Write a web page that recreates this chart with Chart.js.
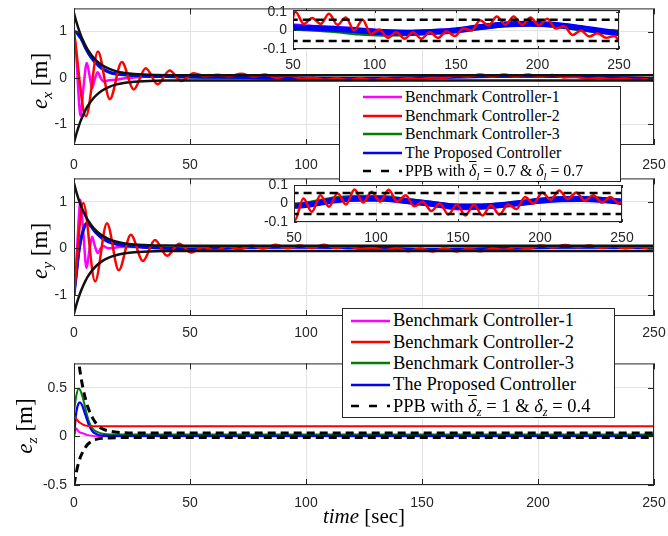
<!DOCTYPE html>
<html>
<head>
<meta charset="utf-8">
<script src="https://cdn.jsdelivr.net/npm/chart.js@4.4.1/dist/chart.umd.min.js"></script>
<style>
body { margin: 0; background: #fff; }
#fig { position: relative; width: 668px; height: 536px; overflow: hidden; font-family: 'Liberation Serif', 'Times New Roman', serif; }
canvas { position: absolute; }
.leg { position: absolute; background: #fff; border: 1px solid #262626; box-sizing: border-box; color: #000; white-space: nowrap; }
.row { display: flex; align-items: center; }
.row svg { flex: none; }
.lab { position: absolute; white-space: nowrap; color: #000; }
.ylab { font-size: 23px; transform: translate(-50%, -50%) rotate(-90deg); }
.xlab { font-size: 21px; transform: translate(-50%, -50%); }
sub { font-size: 0.68em; vertical-align: -0.35em; line-height: 0; }
.ov { text-decoration: overline; }
.un { text-decoration: underline; text-underline-offset: 5px; }
</style>
</head>
<body>
<div id="fig">
  <canvas id="c1" width="668" height="180" style="left:0;top:0"></canvas>
  <canvas id="i1" width="400" height="80" style="left:240px;top:0"></canvas>
  <canvas id="c2" width="668" height="180" style="left:0;top:170px"></canvas>
  <canvas id="i2" width="400" height="80" style="left:240px;top:175px"></canvas>
  <canvas id="c3" width="668" height="181" style="left:0;top:355px"></canvas>
  <div class="leg" id="leg1" style="left:339px;top:86px;width:282px;height:96px;font-size:15.8px;padding-top:1px"></div>
  <div class="leg" id="leg2" style="left:342px;top:308px;width:273px;height:110px;font-size:18.5px;padding-top:1px"></div>
  <div class="lab ylab" style="left:40px;top:81px"><i>e</i><sub><i>x</i></sub> [m]</div>
  <div class="lab ylab" style="left:40px;top:251px"><i>e</i><sub><i>y</i></sub> [m]</div>
  <div class="lab ylab" style="left:25px;top:426px"><i>e</i><sub><i>z</i></sub> [m]</div>
  <div class="lab xlab" style="left:364px;top:516px"><i>time</i> [sec]</div>
</div>
<script>
// tick labels
const xTicks = [0, 50, 100, 150, 200, 250];
const xTicksInset = [50, 100, 150, 200, 250];
const yTicksXY = [-1, 0, 1];
const yTicksZ = [-0.5, 0, 0.5];
const yTicksInset = [-0.1, 0, 0.1];

// legend entries
const seriesNames = ['Benchmark Controller-1', 'Benchmark Controller-2', 'Benchmark Controller-3', 'The Proposed Controller'];
const boundNameXY = 'PPB with <i class="ov">&delta;</i><sub><i>l</i></sub> = 0.7 &amp; <span class="un"><i>&delta;</i><sub><i>l</i></sub></span> = 0.7';
const boundNameZ = 'PPB with <i class="ov">&delta;</i><sub><i>z</i></sub> = 1 &amp; <span class="un"><i>&delta;</i><sub><i>z</i></sub></span> = 0.4';

// common time grid for the smooth controllers
const tS = [0, 1, 2, 3, 4, 5, 6, 7, 8, 9, 10, 12, 14, 16, 18, 20, 25, 30, 40, 50, 60, 75, 90, 105, 120, 135, 150, 165, 180, 195, 210, 225, 240, 250];

// prescribed performance bounds (x and y)
const tB = [0, 1, 2, 3, 4, 5, 6, 8, 10, 12, 15, 18, 22, 26, 30, 35, 40, 50, 250];
const bUp = [1.4, 1.213, 1.052, 0.913, 0.794, 0.691, 0.602, 0.461, 0.356, 0.278, 0.198, 0.146, 0.106, 0.083, 0.071, 0.063, 0.059, 0.057, 0.057];
const bLo = [-1.4, -1.213, -1.052, -0.913, -0.794, -0.691, -0.602, -0.461, -0.356, -0.278, -0.198, -0.146, -0.106, -0.083, -0.071, -0.063, -0.059, -0.057, -0.057];

// e_x
const exBlue = [1.0, 0.99, 0.93, 0.86, 0.76, 0.65, 0.56, 0.48, 0.41, 0.35, 0.30, 0.21, 0.15, 0.11, 0.09, 0.075, 0.055, 0.042, 0.028, 0.018, 0.014, 0.009, 0.0, -0.009, -0.012, -0.008, 0.0, 0.018, 0.032, 0.036, 0.03, 0.015, -0.004, -0.015];
const exGreen = [1.0, 0.98, 0.91, 0.84, 0.74, 0.63, 0.54, 0.46, 0.39, 0.33, 0.28, 0.19, 0.14, 0.1, 0.08, 0.065, 0.048, 0.036, 0.024, 0.012, 0.008, 0.0, -0.014, -0.02, -0.018, -0.01, 0.0, 0.016, 0.03, 0.034, 0.028, 0.01, -0.005, -0.008];
const tMx = [0, 1, 2, 2.8, 4, 5.5, 6.7, 7.8, 9, 10.2, 11.5, 12.7, 15, 18, 22, 26, 30, 40, 50, 60, 75, 90, 105, 120, 135, 150, 165, 180, 195, 210, 225, 240, 250];
const exMag = [1.0, 0.5, -0.4, -0.82, -0.25, 0.32, 0.05, -0.22, -0.02, 0.12, 0.0, -0.08, -0.05, -0.04, -0.01, 0.01, 0.025, 0.028, 0.025, 0.018, 0.012, 0.002, -0.006, -0.01, -0.006, 0.002, 0.02, 0.033, 0.037, 0.03, 0.016, -0.004, -0.012];
const tRx = [0, 5.15, 10.3, 15.45, 20.6, 25.75, 30.9, 36.05, 41.2, 46.35, 51.5, 56.65, 61.8, 66.95, 72.1, 77.25, 82.4, 87.55, 92.7, 97.85, 103, 108.15, 113.3, 118.45, 123.6, 128.75, 133.9, 139.05, 144.2, 149.35, 154.5, 159.65, 164.8, 169.95, 175.1, 180.25, 185.4, 190.55, 195.7, 200.85, 206, 211.15, 216.3, 221.45, 226.6, 231.75, 236.9, 242.05, 247.2, 250];
const exRed = [1.0, -0.83, 0.57, -0.46, 0.34, -0.25, 0.21, -0.14, 0.16, -0.07, 0.10, 0.035, 0.067, 0.035, 0.09, 0.03, 0.07, 0.0, 0.058, -0.02, 0.005, -0.04, -0.01, -0.045, -0.01, -0.045, -0.01, -0.04, -0.005, -0.03, 0.01, 0.0, 0.055, 0.027, 0.075, 0.03, 0.075, 0.03, 0.07, 0.027, 0.063, 0.01, 0.022, -0.024, 0.0, -0.033, -0.015, -0.04, -0.03, -0.057];

// e_y
const eyBlue = [-1.0, -0.55, -0.1, 0.2, 0.4, 0.52, 0.54, 0.49, 0.43, 0.36, 0.31, 0.22, 0.16, 0.12, 0.09, 0.07, 0.045, 0.025, 0.005, -0.012, -0.005, 0.018, 0.026, 0.025, 0.012, -0.003, -0.017, -0.016, -0.005, 0.01, 0.022, 0.024, 0.017, 0.009];
const eyGreen = [-1.0, -0.57, -0.12, 0.18, 0.38, 0.5, 0.53, 0.49, 0.43, 0.37, 0.32, 0.23, 0.17, 0.13, 0.1, 0.08, 0.05, 0.03, 0.01, -0.008, 0.002, 0.026, 0.034, 0.032, 0.016, 0.0, -0.014, -0.014, -0.004, 0.012, 0.026, 0.028, 0.02, 0.012];
const tMy = [0, 1, 2, 2.7, 4, 5.4, 6.6, 7.8, 9, 10.2, 11.4, 12.5, 15, 18, 22, 26, 30, 40, 50, 60, 75, 90, 105, 120, 135, 150, 165, 180, 195, 210, 225, 240, 250];
const eyMag = [-1.0, -0.3, 0.6, 1.04, 0.35, -0.42, -0.05, 0.25, 0.05, -0.1, -0.01, 0.05, 0.0, 0.02, 0.04, 0.04, 0.025, 0.0, -0.012, -0.004, 0.018, 0.026, 0.024, 0.01, -0.006, -0.024, -0.02, -0.006, 0.01, 0.024, 0.027, 0.02, 0.01];
const tRy = [0, 4.0, 9.1, 14.2, 19.3, 24.5, 29.7, 34.9, 40.1, 45.3, 50.5, 55.7, 60.9, 66.1, 71.3, 76.5, 81.7, 86.9, 92.1, 97.3, 102.5, 107.7, 112.9, 118.1, 123.3, 128.5, 133.7, 138.9, 144.1, 149.3, 154.5, 159.7, 164.9, 170.1, 175.3, 180.5, 185.7, 190.9, 196.1, 201.3, 206.5, 211.7, 216.9, 222.1, 227.3, 232.5, 237.7, 242.9, 248.1, 250];
const eyRed = [-1.0, 0.97, -0.71, 0.54, -0.47, 0.29, -0.27, 0.18, -0.16, 0.10, -0.09, 0.027, -0.045, 0.045, -0.018, 0.055, -0.005, 0.076, 0.005, 0.064, 0.01, 0.075, 0.01, 0.045, -0.015, 0.01, -0.04, 0.0, -0.06, -0.005, -0.065, -0.005, -0.065, -0.01, -0.06, -0.005, -0.03, 0.035, 0.0, 0.06, 0.02, 0.07, 0.025, 0.06, 0.015, 0.045, 0.005, 0.035, 0.0, 0.01];

// e_z
const tBz = [0, 1, 2, 3, 4, 5, 6, 8, 10, 12, 15, 20, 30, 250];
const zUp = [1.25, 0.98, 0.77, 0.61, 0.48, 0.38, 0.30, 0.19, 0.12, 0.08, 0.055, 0.04, 0.035, 0.035];
const zLo = [-0.5, -0.37, -0.27, -0.2, -0.15, -0.11, -0.08, -0.045, -0.028, -0.02, -0.016, -0.013, -0.012, -0.012];
const tZ = [0, 1, 2, 2.6, 3.5, 4.5, 5.5, 6.5, 8, 10, 13, 20, 250];
const ezBlue = [0, 0.25, 0.34, 0.35, 0.32, 0.25, 0.18, 0.11, 0.05, 0.02, 0.008, 0.004, 0.004];
const ezGreen = [0.25, 0.42, 0.49, 0.48, 0.42, 0.33, 0.23, 0.15, 0.08, 0.045, 0.025, 0.018, 0.018];
const ezRed = [0.22, 0.18, 0.15, 0.14, 0.125, 0.115, 0.11, 0.107, 0.105, 0.104, 0.103, 0.103, 0.103];
const ezMag = [0, 0.08, 0.05, 0.04, 0.035, 0.025, 0.015, 0.01, 0.005, 0.002, 0.0, 0.0, 0.0];

const C = { mag: '#ff00ff', red: '#ff0000', grn: '#008000', blu: '#0000ff', blk: '#111111' };
const axisColor = '#262626';
const gridColor = '#e2e2e2';
const tickFont = { family: "'Liberation Sans', Arial, sans-serif", size: 14 };

function xy(ts, vs) {
    return ts.map((t, i) => ({ x: t, y: vs[i] }));
}

function line(ts, vs, color, width, dash) {
    return {
        data: xy(ts, vs),
        borderColor: color,
        borderWidth: width,
        borderDash: dash || [],
        pointRadius: 0,
        fill: false,
        cubicInterpolationMode: 'monotone'
    };
}

// MATLAB style box with inward ticks
const boxPlugin = {
    id: 'mbox',
    beforeDraw(chart, args, opts) {
        if (!opts.white) return;
        const a = chart.chartArea;
        chart.ctx.save();
        chart.ctx.fillStyle = '#fff';
        chart.ctx.fillRect(a.left, a.top, a.right - a.left, a.bottom - a.top);
        chart.ctx.restore();
    },
    afterDraw(chart, args, opts) {
        const { ctx, chartArea: a } = chart;
        const x = chart.scales.x, y = chart.scales.y;
        const L = opts.tick;
        ctx.save();
        ctx.strokeStyle = axisColor;
        ctx.lineWidth = 1;
        ctx.beginPath();
        x.ticks.forEach(t => {
            const p = Math.round(x.getPixelForValue(t.value)) + 0.5;
            ctx.moveTo(p, a.bottom); ctx.lineTo(p, a.bottom - L);
            ctx.moveTo(p, a.top); ctx.lineTo(p, a.top + L);
        });
        y.ticks.forEach(t => {
            const p = Math.round(y.getPixelForValue(t.value)) + 0.5;
            ctx.moveTo(a.left, p); ctx.lineTo(a.left + L, p);
            ctx.moveTo(a.right, p); ctx.lineTo(a.right - L, p);
        });
        ctx.stroke();
        ctx.strokeRect(a.left + 0.5, a.top + 0.5, a.right - a.left - 1, a.bottom - a.top - 1);
        ctx.restore();
    }
};

// tick label offsets are done with invisible tick marks so the side overhang stays small
function makeChart(id, datasets, o) {
    return new Chart(document.getElementById(id), {
        type: 'line',
        data: { datasets: datasets },
        options: {
            responsive: false,
            animation: false,
            devicePixelRatio: 1,
            layout: { padding: { left: 0, top: o.padTop, right: o.padRight, bottom: 0 } },
            plugins: {
                legend: { display: false },
                tooltip: { enabled: false },
                mbox: { white: o.white, tick: o.tick }
            },
            scales: {
                x: {
                    type: 'linear',
                    min: o.xMin,
                    max: o.xMax,
                    afterBuildTicks: s => { s.ticks = o.xTicks.map(v => ({ value: v })); },
                    afterFit: s => { s.height = o.xH; },
                    grid: { color: gridColor, drawTicks: true, tickLength: o.xPad, tickColor: 'rgba(0,0,0,0)' },
                    border: { display: false },
                    ticks: { padding: 0, font: tickFont, color: axisColor, maxRotation: 0, autoSkip: false, callback: v => String(v) }
                },
                y: {
                    type: 'linear',
                    min: o.yMin,
                    max: o.yMax,
                    afterBuildTicks: s => { s.ticks = o.yTicks.map(v => ({ value: v })); },
                    afterFit: s => { s.width = o.yW; },
                    grid: { color: gridColor, drawTicks: true, tickLength: o.yPad, tickColor: 'rgba(0,0,0,0)' },
                    border: { display: false },
                    ticks: { padding: 0, font: tickFont, color: axisColor, autoSkip: false, callback: v => String(v) }
                }
            }
        },
        plugins: [boxPlugin]
    });
}

const mainOpts = { xMin: 0, xMax: 250, xTicks: xTicks, yTicks: yTicksXY, yMin: -1.45, yMax: 1.5, yW: 74, padRight: 14, yPad: 7, tick: 6, white: false };
const insetOpts = { xMin: 50, xMax: 250, xTicks: xTicksInset, yTicks: yTicksInset, yPad: 6, xPad: 8, padTop: 10, tick: 3, white: true, xH: 31 };

// e_x
makeChart('c1', [
    line(tB, bUp, C.blk, 2.5), line(tB, bLo, C.blk, 2.5),
    line(tRx, exRed, C.red, 2.5),
    line(tS, exBlue, C.blu, 3),
    line(tS, exGreen, C.grn, 2.5),
    line(tMx, exMag, C.mag, 2.5)
], Object.assign({}, mainOpts, { padTop: 7, xH: 35, xPad: 12 }));

makeChart('i1', [
    line(tB, bUp, '#000', 2.5, [8, 5]), line(tB, bLo, '#000', 2.5, [8, 5]),
    line(tRx, exRed, C.red, 2.5),
    line(tS, exBlue, C.blu, 6),
    line(tS, exGreen, C.grn, 5),
    line(tMx, exMag, C.mag, 5)
], Object.assign({}, insetOpts, { yMin: -0.1, yMax: 0.11, yW: 53, padRight: 21 }));

// e_y
makeChart('c2', [
    line(tB, bUp, C.blk, 2.5), line(tB, bLo, C.blk, 2.5),
    line(tRy, eyRed, C.red, 2.5),
    line(tS, eyBlue, C.blu, 3),
    line(tS, eyGreen, C.grn, 2.5),
    line(tMy, eyMag, C.mag, 2.5)
], Object.assign({}, mainOpts, { padTop: 8, xH: 34, xPad: 9 }));

makeChart('i2', [
    line(tB, bUp, '#000', 2.5, [8, 5]), line(tB, bLo, '#000', 2.5, [8, 5]),
    line(tRy, eyRed, C.red, 2.5),
    line(tS, eyBlue, C.blu, 6),
    line(tS, eyGreen, C.grn, 5),
    line(tMy, eyMag, C.mag, 5)
], Object.assign({}, insetOpts, { yMin: -0.1, yMax: 0.1, yW: 54, padRight: 18, xH: 33 }));

// e_z
makeChart('c3', [
    line(tBz, zUp, '#000', 3, [8, 5]), line(tBz, zLo, '#000', 3, [8, 5]),
    line(tZ, ezRed, C.red, 2),
    line(tZ, ezBlue, C.blu, 2.2),
    line(tZ, ezGreen, C.grn, 2),
    line(tZ, ezMag, C.mag, 2)
], Object.assign({}, mainOpts, { yTicks: yTicksZ, yMin: -0.5, yMax: 0.75, padTop: 8, xH: 51, xPad: 10 }));

// legends
function buildLegend(id, boundName, rowH, lineLeft, gap) {
    const colors = [C.mag, C.red, C.grn, C.blu];
    const el = document.getElementById(id);
    let html = '';
    seriesNames.forEach((name, i) => {
        html += `<div class="row" style="height:${rowH}px"><svg width="39" height="8" style="margin-left:${lineLeft}px"><line x1="0" y1="4" x2="39" y2="4" stroke="${colors[i]}" stroke-width="2.5"/></svg><span style="margin-left:${gap}px">${name}</span></div>`;
    });
    html += `<div class="row" style="height:${rowH}px"><svg width="39" height="8" style="margin-left:${lineLeft}px"><line x1="0" y1="4" x2="39" y2="4" stroke="#000" stroke-width="2.5" stroke-dasharray="8 10"/></svg><span style="margin-left:${gap}px">${boundName}</span></div>`;
    el.innerHTML = html;
}
buildLegend('leg1', boundNameXY, 18.5, 23, 3);
buildLegend('leg2', boundNameZ, 21.4, 8, 3);
</script>
</body>
</html>
